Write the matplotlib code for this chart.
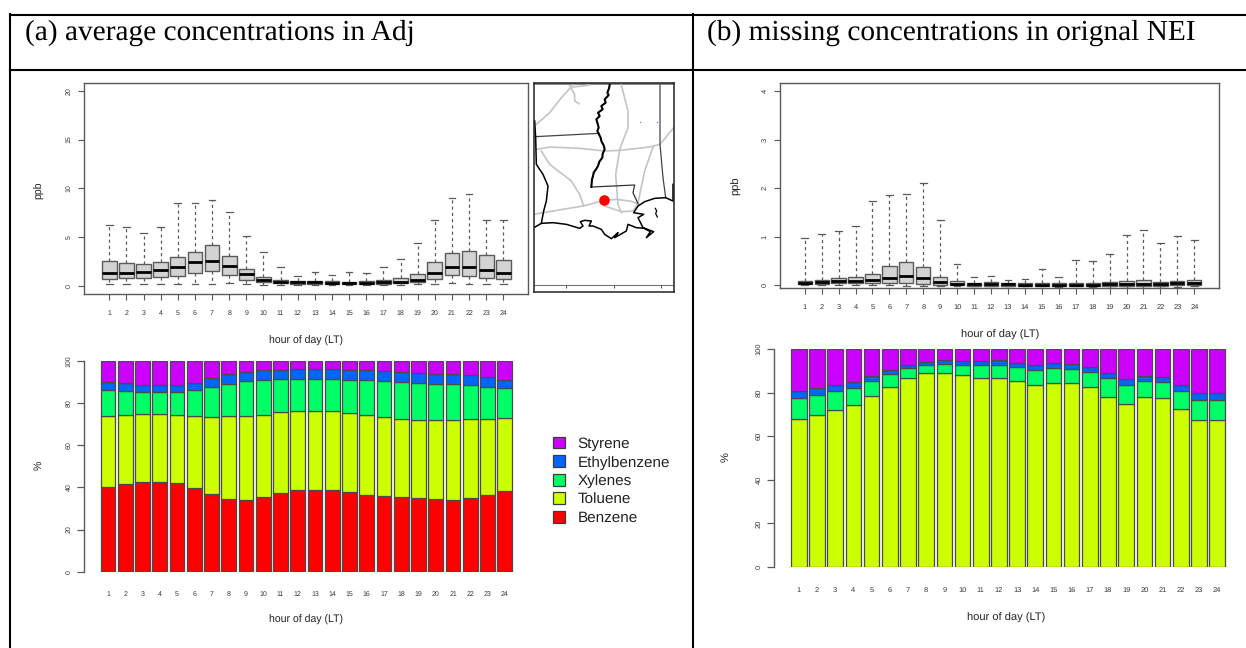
import matplotlib
matplotlib.use("Agg")
import matplotlib.pyplot as plt
from matplotlib.lines import Line2D

plt.rcParams["font.family"] = ["Liberation Sans", "DejaVu Sans"]
plt.rcParams["text.hinting"] = "no_hinting"

W, H = 1246, 648

hours = list(range(1, 25))
species = ["Benzene", "Toluene", "Xylenes", "Ethylbenzene", "Styrene"]
colors = ["#ff0000", "#ccff00", "#00ff66", "#0066ff", "#cc00ff"]

# panel a boxplot, ppb
a_hi = [6.2, 6.0, 5.45, 6.0, 8.45, 8.55, 8.8, 7.6, 5.08, 3.5, 1.95, 1.0, 1.47, 1.15, 1.43, 1.33, 1.9, 2.8, 4.43, 6.75, 8.97, 9.38, 6.72, 6.75]
a_q3 = [2.55, 2.4, 2.3, 2.5, 2.93, 3.5, 4.2, 3.1, 1.77, 0.95, 0.62, 0.52, 0.48, 0.48, 0.45, 0.5, 0.6, 0.8, 1.2, 2.42, 3.4, 3.6, 3.14, 2.66]
a_med = [1.3, 1.33, 1.43, 1.6, 1.95, 2.45, 2.55, 2.0, 1.2, 0.65, 0.45, 0.38, 0.36, 0.35, 0.33, 0.35, 0.4, 0.45, 0.65, 1.33, 1.9, 1.97, 1.67, 1.36]
a_q1 = [0.72, 0.8, 0.85, 0.92, 1.02, 1.3, 1.53, 1.1, 0.62, 0.38, 0.3, 0.25, 0.23, 0.22, 0.2, 0.22, 0.25, 0.28, 0.38, 0.68, 1.16, 1.0, 0.82, 0.72]
a_lo = [0.2, 0.2, 0.2, 0.2, 0.2, 0.22, 0.25, 0.28, 0.25, 0.15, 0.12, 0.12, 0.1, 0.1, 0.08, 0.1, 0.12, 0.12, 0.18, 0.25, 0.28, 0.25, 0.22, 0.2]

# panel b boxplot, ppb
b_hi = [0.975, 1.06, 1.12, 1.23, 1.74, 1.86, 1.89, 2.1, 1.34, 0.43, 0.17, 0.19, 0.11, 0.13, 0.33, 0.18, 0.53, 0.5, 0.64, 1.03, 1.14, 0.88, 1.02, 0.93]
b_q3 = [0.09, 0.11, 0.15, 0.17, 0.24, 0.39, 0.48, 0.37, 0.18, 0.09, 0.05, 0.06, 0.05, 0.05, 0.04, 0.04, 0.05, 0.05, 0.07, 0.09, 0.1, 0.07, 0.08, 0.1]
b_med = [0.055, 0.07, 0.08, 0.09, 0.11, 0.15, 0.2, 0.14, 0.06, 0.03, 0.02, 0.02, 0.02, 0.015, 0.01, 0.0, 0.015, 0.01, 0.02, 0.03, 0.03, 0.03, 0.04, 0.05]
b_q1 = [0.02, 0.03, 0.04, 0.04, 0.05, 0.04, 0.04, 0.03, 0.01, 0.0, -0.01, -0.01, -0.01, -0.01, -0.01, -0.02, -0.01, -0.02, -0.02, -0.01, -0.01, -0.01, 0.0, 0.01]
b_lo = [0.0, 0.0, 0.0, 0.0, 0.0, 0.0, -0.01, -0.01, -0.01, -0.01, -0.02, -0.02, -0.02, -0.02, -0.02, -0.03, -0.02, -0.03, -0.07, -0.06, -0.07, -0.06, -0.03, -0.02]

# panel a stacked bars, top of each layer in %
a_benzene = [40.3, 41.5, 42.3, 42.6, 41.9, 39.8, 36.6, 34.4, 34.1, 35.4, 37.4, 38.7, 38.9, 38.5, 37.6, 36.5, 35.7, 35.2, 34.9, 34.4, 34.1, 34.9, 36.3, 38.1]
a_toluene = [73.8, 74.2, 74.6, 74.6, 74.4, 73.9, 73.5, 73.8, 73.9, 74.4, 75.5, 76.1, 76.3, 76.0, 75.0, 74.2, 73.5, 72.5, 72.0, 72.0, 72.0, 72.2, 72.4, 72.8]
a_xylenes = [86.1, 85.6, 85.3, 85.0, 85.3, 86.1, 87.5, 89.1, 90.2, 90.8, 91.2, 91.3, 91.5, 91.3, 91.0, 90.7, 90.5, 89.9, 89.3, 88.9, 88.8, 88.3, 87.7, 86.9]
a_ethyl = [90.0, 89.3, 88.6, 88.3, 88.5, 89.6, 91.6, 93.5, 94.6, 95.4, 95.7, 95.9, 96.0, 95.9, 95.6, 95.4, 95.3, 94.8, 94.0, 93.7, 93.5, 93.0, 92.3, 91.0]
a_styrene = [100] * 24

# panel b stacked bars, no benzene
b_benzene = [0] * 24
b_toluene = [67.7, 69.6, 72.0, 74.3, 78.6, 82.7, 86.5, 89.1, 89.1, 87.9, 86.9, 86.7, 85.3, 83.5, 84.4, 84.3, 82.6, 78.1, 74.8, 77.8, 77.5, 72.6, 67.6, 67.3]
b_xylenes = [77.4, 78.9, 80.6, 82.3, 85.5, 88.7, 91.1, 92.7, 93.3, 92.8, 92.5, 92.8, 91.7, 90.4, 91.3, 91.0, 89.4, 86.5, 83.3, 85.2, 84.9, 80.7, 76.8, 76.5]
b_ethyl = [80.6, 82.1, 83.3, 85.0, 87.8, 90.5, 92.8, 94.2, 94.8, 94.3, 94.5, 94.8, 93.7, 92.5, 93.4, 93.0, 91.6, 89.0, 86.1, 87.5, 87.0, 83.5, 80.0, 79.7]
b_styrene = [100] * 24

# map outlines
river_x = [240, 238, 233, 237, 225, 228, 215, 219, 205, 210, 200, 204, 207, 203, 208, 213, 215, 222, 225, 219, 218, 209, 205, 199, 192, 190, 187, 185]
river_y = [22, 32, 45, 52, 65, 75, 85, 95, 105, 115, 125, 138, 150, 160, 170, 180, 190, 203, 215, 228, 240, 252, 265, 275, 285, 295, 305, 328]
msline_x = [185, 315, 310, 325]
msline_y = [328, 322, 345, 378]
arline_x = [15, 208]
arline_y = [177, 167]
alline_x = [391, 391, 400, 408]
alline_y = [22, 200, 300, 360]
txline_x = [15, 18, 20, 40, 55, 50, 42, 35]
txline_y = [130, 180, 260, 290, 325, 370, 400, 437]
coast_x = [13, 35, 70, 110, 150, 160, 152, 165, 185, 178, 190, 215, 225, 245, 265, 255, 290, 295, 320, 345, 372, 350, 362, 340, 325, 342, 312, 325, 345, 375, 408, 430, 430]
coast_y = [450, 437, 435, 440, 452, 445, 432, 428, 430, 445, 445, 455, 470, 483, 465, 480, 460, 440, 450, 452, 462, 480, 462, 450, 420, 410, 405, 385, 372, 362, 360, 370, 320]
island_x = [377, 381, 378, 383]
island_y = [392, 400, 408, 418]
roads = [
    ([130, 95, 60, 20], [22, 60, 105, 140]),
    ([120, 135, 135, 148], [25, 50, 70, 78]),
    ([130, 180], [28, 22]),
    ([275, 295, 295, 270], [22, 100, 150, 215]),
    ([20, 60, 150, 225, 270, 360, 391, 432], [215, 208, 212, 220, 218, 208, 200, 150]),
    ([35, 60, 125, 150, 162], [220, 260, 310, 350, 385]),
    ([13, 40, 100, 160, 225, 260, 300, 325], [410, 405, 395, 385, 368, 365, 370, 378]),
    ([270, 258, 265, 275], [218, 290, 380, 405]),
    ([225, 275, 310, 325], [385, 402, 400, 378]),
    ([370, 345, 325], [208, 280, 375]),
]
site_x, site_y = [224], [368]
blue_x, blue_y = [330, 381, 68], [132, 132, 400]
map_ticks = [110, 252, 394]

GRAY = "#5a5a5a"
TXT = "#333333"


def add_axes(left, top, right, bottom):
    # rectangle given in image pixels
    return fig.add_axes([left / W, 1 - bottom / H, (right - left) / W, (bottom - top) / H])


def label(x, y, s, size, rotation=0):
    fig.text(x / W, 1 - y / H, s, fontsize=size, rotation=rotation, ha="center", va="center", color="#222222")


def draw_box(rect, x1, x24, y_low, y_high, hi, q3, med, q1, lo, yticks, size, width):
    left, top, right, bottom = rect
    ax = add_axes(left, top, right, bottom)
    stats = []
    for i in range(24):
        stats.append({"whishi": hi[i], "q3": q3[i], "med": med[i], "q1": q1[i], "whislo": lo[i], "fliers": []})
    ax.bxp(stats, positions=hours, widths=width, capwidths=0.39, patch_artist=True, showfliers=False,
           boxprops=dict(facecolor="#d3d3d3", edgecolor=GRAY, linewidth=1.0),
           medianprops=dict(color="black", linewidth=2.0, solid_capstyle="butt"),
           whiskerprops=dict(color=GRAY, linewidth=0.9, linestyle=(0, (2.5, 2.5))),
           capprops=dict(color=GRAY, linewidth=0.9))
    step = (x24 - x1) / 23
    ax.set_xlim(1 + (left - x1) / step, 24 + (right - x24) / step)
    ax.set_ylim(y_low, y_high)
    ax.set_xticks(hours)
    ax.set_xticklabels([str(h) for h in hours])
    ax.set_yticks(yticks)
    ax.tick_params(axis="both", length=4.6, width=0.8, color=GRAY, labelsize=size, labelcolor=TXT, pad=7)
    ax.tick_params(axis="y", labelrotation=90, pad=4)
    for t in ax.get_yticklabels():
        t.set_va("center")
    for s in ax.spines.values():
        s.set_color(GRAY)
        s.set_linewidth(1.0)
    return ax


def draw_stack(rect, x1, x24, width, layers, size):
    left, top, right, bottom = rect
    ax = add_axes(left, top, right, bottom)
    base = [0] * 24
    for layer, col, name in zip(layers, colors, species):
        heights = [t - b for t, b in zip(layer, base)]
        ax.bar(hours, heights, bottom=base, width=width, color=col, edgecolor="#4a4a4a", linewidth=0.9, label=name)
        base = layer
    step = (x24 - x1) / 23
    ax.set_xlim(1 + (left - x1) / step, 24 + (right - x24) / step)
    ax.set_ylim(0, 100)
    ax.set_xticks(hours)
    ax.set_xticklabels([str(h) for h in hours])
    ax.set_yticks([0, 20, 40, 60, 80, 100])
    ax.tick_params(axis="x", length=0, labelsize=size, labelcolor=TXT, pad=14)
    ax.tick_params(axis="y", length=4.8, width=0.9, color=GRAY, labelsize=size, labelcolor=TXT, labelrotation=90, pad=4)
    for t in ax.get_yticklabels():
        t.set_va("center")
    for name in ["top", "right", "bottom"]:
        ax.spines[name].set_visible(False)
    ax.spines["left"].set_color(GRAY)
    ax.spines["left"].set_linewidth(1.0)
    ax.patch.set_alpha(0)
    return ax


def draw_map(rect):
    ax = add_axes(*rect)
    ax.set_xlim(13, 433)
    ax.set_ylim(643, 15)
    for rx, ry in roads:
        ax.plot(rx, ry, color="#c4c4c4", lw=1.2)
    ax.plot(arline_x, arline_y, color="#444444", lw=0.9)
    ax.plot(alline_x, alline_y, color="#444444", lw=0.9)
    ax.plot(msline_x, msline_y, color="#333333", lw=0.9)
    ax.plot(river_x, river_y, color="black", lw=1.5)
    ax.plot(txline_x, txline_y, color="black", lw=1.1)
    ax.plot(coast_x, coast_y, color="black", lw=1.1)
    ax.plot(island_x, island_y, color="black", lw=0.9)
    ax.scatter(blue_x, blue_y, s=1, color="#6a6aff", linewidths=0)
    ax.scatter(site_x, site_y, s=58, color="#ff0000", linewidths=0, zorder=5)
    ax.axhspan(15, 22, color="#8a8a8a", lw=0)
    ax.axhline(622, color="#777777", lw=0.8)
    ax.vlines(map_ticks, 622, 632, color="#555555", lw=0.8)
    ax.set_xticks([])
    ax.set_yticks([])
    for s in ax.spines.values():
        s.set_color("#222222")
        s.set_linewidth(1.1)
    return ax


fig = plt.figure(figsize=(W / 100, H / 100), dpi=100)

draw_box((84.3, 82.7, 528, 294), 109.3, 503.3, -0.82, 20.82, a_hi, a_q3, a_med, a_q1, a_lo, [0, 5, 10, 15, 20], 5.0, 0.86)
draw_box((780, 83.3, 1219.3, 287.7), 804.7, 1194.3, -0.05, 4.16, b_hi, b_q3, b_med, b_q1, b_lo, [0, 1, 2, 3, 4], 5.4, 0.84)
draw_map((534, 82.7, 674, 292))

ax_a = draw_stack((84.3, 360.7, 520, 571.7), 108, 504.8, 0.85, [a_benzene, a_toluene, a_xylenes, a_ethyl, a_styrene], 5.0)
draw_stack((774, 349, 1232, 567), 798.8, 1217.2, 0.86, [b_benzene, b_toluene, b_xylenes, b_ethyl, b_styrene], 5.4)

handles, names = ax_a.get_legend_handles_labels()
leg = fig.legend(handles[::-1], names[::-1], loc="center left", bbox_to_anchor=(539 / W, 1 - 481 / H), frameon=False,
                 fontsize=11.0, handlelength=0.8, handleheight=0.8, handletextpad=0.83, labelspacing=0.28, labelcolor="#222222")
for h in leg.legend_handles:
    h.set_edgecolor("#3c3c3c")
    h.set_linewidth(0.9)

label(306, 341, "hour of day (LT)", 7.6)
label(306, 620, "hour of day (LT)", 7.6)
label(1000, 335, "hour of day (LT)", 8.0)
label(1006, 617.5, "hour of day (LT)", 8.0)
label(39, 190, "ppb", 7.6, 90)
label(39, 465, "%", 7.6, 90)
label(735.7, 185.7, "ppb", 8.0, 90)
label(725.7, 457, "%", 8.0, 90)

# table the panels sit in
for xs, ys in [((10, 1246), (14.5, 14.5)), ((10, 1246), (70, 70)), ((10, 10), (14, 648)), ((693, 693), (14, 648))]:
    fig.add_artist(Line2D([x / W for x in xs], [1 - y / H for y in ys], color="black", lw=1.5))

fig.text(25 / W, 1 - 33 / H, "(a) average concentrations in Adj", family="Liberation Serif", fontsize=21.2, va="center", color="black")
fig.text(707 / W, 1 - 33 / H, "(b) missing concentrations in orignal NEI", family="Liberation Serif", fontsize=21.2, va="center", color="black")

fig.savefig("out.png", dpi=100)
